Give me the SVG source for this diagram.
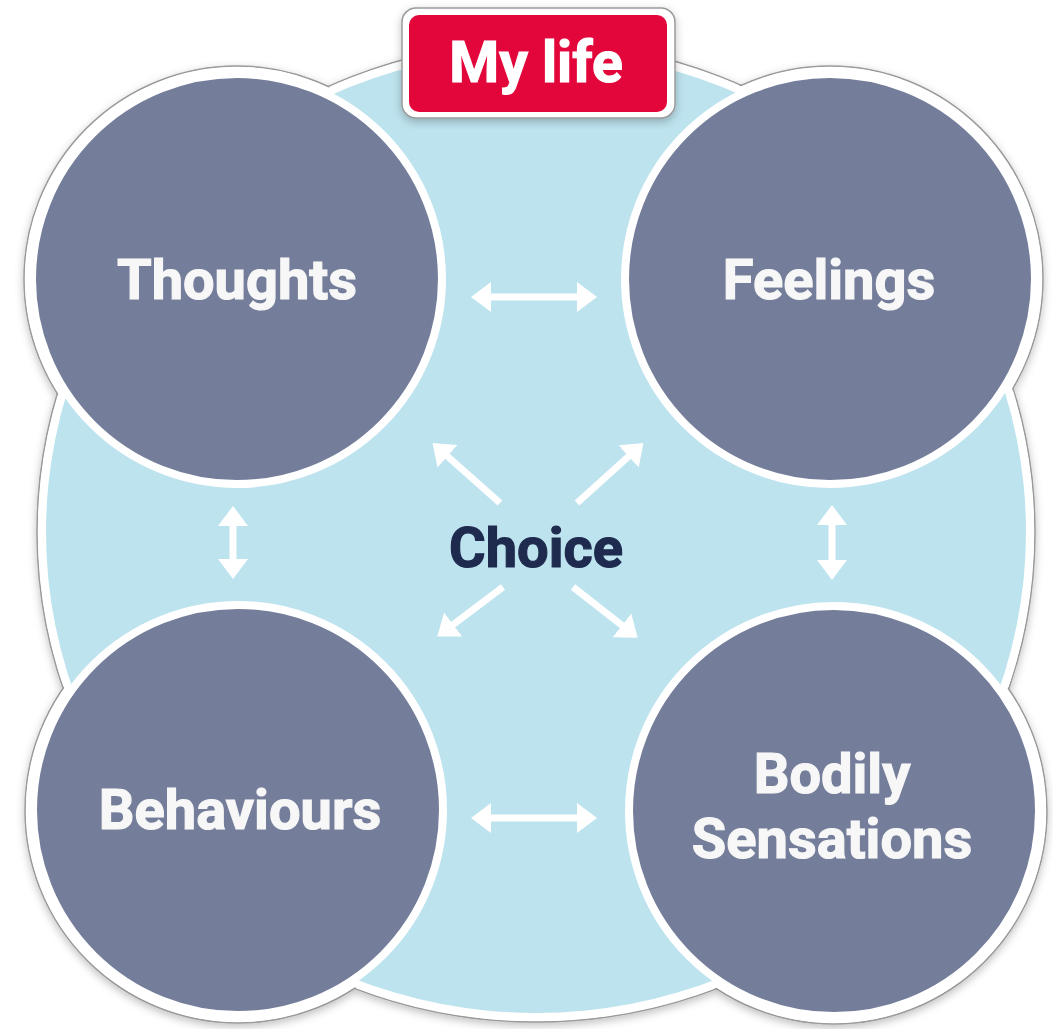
<svg xmlns="http://www.w3.org/2000/svg" width="1053" height="1029" viewBox="0 0 1053 1029">
  <style>
    .outline { fill: #ffffff; stroke: #9a9a9a; stroke-width: 1.5; }
    .cover { fill: #ffffff; }
    .node { fill: #747d9a; stroke: #ffffff; stroke-width: 8; }
    .label { font-family: Roboto, "Liberation Sans", sans-serif; font-weight: 700; fill: #f7f7f7; stroke: #f7f7f7; stroke-width: 1.2; text-anchor: middle; font-size: 56px; }
    .choice { font-family: Roboto, "Liberation Sans", sans-serif; font-weight: 700; fill: #1e2a4e; stroke: #1e2a4e; stroke-width: 1.2; text-anchor: middle; font-size: 56px; }
    .arrow { stroke: #ffffff; stroke-width: 7; fill: none; marker-start: url(#head); marker-end: url(#head); }
    .arrow1 { stroke: #ffffff; stroke-width: 7; fill: none; marker-end: url(#head); }
  </style>
  <defs>
    <filter id="shadow" x="-10%" y="-10%" width="120%" height="120%">
      <feDropShadow dx="0" dy="3" stdDeviation="4" flood-color="#000000" flood-opacity="0.25"/>
    </filter>
    <marker id="head" viewBox="0 0 20 30" refX="14" refY="15" markerWidth="20" markerHeight="30" markerUnits="userSpaceOnUse" orient="auto-start-reverse">
      <path d="M0,0 L20,15 L0,30 Z" fill="#ffffff"/>
    </marker>
  </defs>

  <g id="background">
    <g filter="url(#shadow)">
      <ellipse class="outline" cx="536" cy="532" rx="499" ry="490"/>
      <circle class="outline" cx="237" cy="279" r="213"/>
      <circle class="outline" cx="830" cy="279" r="213"/>
      <circle class="outline" cx="238" cy="810" r="213"/>
      <circle class="outline" cx="834" cy="811" r="213"/>
    </g>
    <ellipse class="cover" cx="536" cy="532" rx="498" ry="489"/>
    <circle class="cover" cx="237" cy="279" r="212"/>
    <circle class="cover" cx="830" cy="279" r="212"/>
    <circle class="cover" cx="238" cy="810" r="212"/>
    <circle class="cover" cx="834" cy="811" r="212"/>
    <ellipse cx="536" cy="532" rx="490" ry="481" fill="#bde3ee"/>
  </g>

  <g id="title">
    <rect x="402" y="8" width="273" height="110" rx="14" fill="#ffffff" stroke="#9a9a9a" stroke-width="1.5" filter="url(#shadow)"/>
    <rect x="409" y="15" width="258" height="97" rx="10" fill="#e2063b"/>
    <text x="536" y="82" font-family="Roboto, 'Liberation Sans', sans-serif" font-weight="700" font-size="57" fill="#ffffff" stroke="#ffffff" stroke-width="1.2" text-anchor="middle">My life</text>
  </g>

  <g id="connectors">
    <line class="arrow" x1="477" y1="297" x2="591" y2="297"/>
    <line class="arrow" x1="477" y1="818" x2="591" y2="818"/>
    <line class="arrow" x1="233" y1="512" x2="233" y2="573"/>
    <line class="arrow" x1="832" y1="511" x2="832" y2="574"/>
    <line class="arrow1" x1="500" y1="503" x2="437" y2="447"/>
    <line class="arrow1" x1="577" y1="503" x2="639" y2="447"/>
    <line class="arrow1" x1="503" y1="587" x2="442" y2="633"/>
    <line class="arrow1" x1="573" y1="587" x2="633" y2="634"/>
  </g>

  <g id="node-choice">
    <text class="choice" x="536" y="567">Choice</text>
  </g>

  <g id="node-thoughts">
    <circle class="node" cx="237" cy="279" r="205"/>
    <text class="label" x="237" y="299">Thoughts</text>
  </g>
  <g id="node-feelings">
    <circle class="node" cx="830" cy="279" r="205"/>
    <text class="label" x="829" y="299">Feelings</text>
  </g>
  <g id="node-behaviours">
    <circle class="node" cx="238" cy="810" r="205"/>
    <text class="label" x="240" y="829">Behaviours</text>
  </g>
  <g id="node-bodily">
    <circle class="node" cx="834" cy="811" r="205"/>
    <text class="label" x="832" y="793">Bodily</text>
    <text class="label" x="832" y="858">Sensations</text>
  </g>
</svg>
